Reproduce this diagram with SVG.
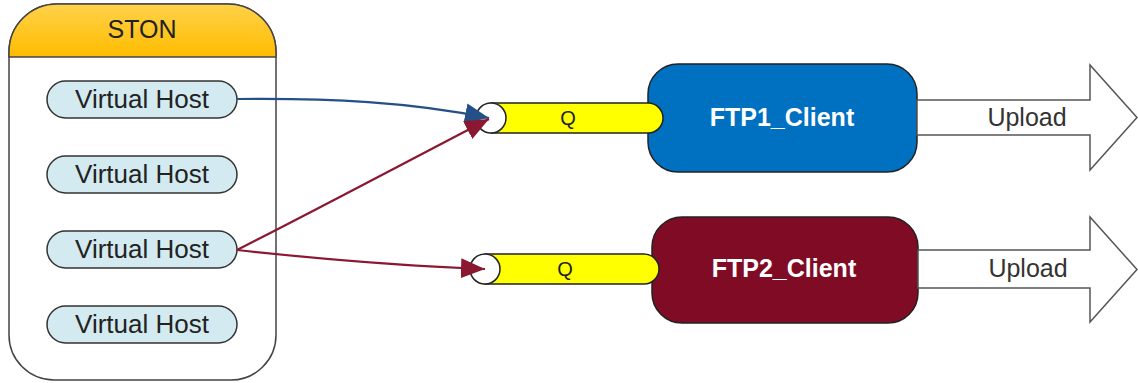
<svg xmlns="http://www.w3.org/2000/svg" width="1138" height="383" viewBox="0 0 1138 383">
<defs>
<linearGradient id="hdr" x1="0" y1="0" x2="0" y2="1">
<stop offset="0" stop-color="#FFD24A"/>
<stop offset="1" stop-color="#FFBC00"/>
</linearGradient>
<marker id="ab" markerUnits="userSpaceOnUse" markerWidth="26" markerHeight="20" refX="24" refY="10" orient="auto">
<path d="M0,0 L24,10 L0,20 Z" fill="#244F87"/>
</marker>
<marker id="ar" markerUnits="userSpaceOnUse" markerWidth="26" markerHeight="20" refX="24" refY="10" orient="auto">
<path d="M0,0 L24,10 L0,20 Z" fill="#8C1731"/>
</marker>
</defs>
<style>
text{font-family:"Liberation Sans",Arial,sans-serif;text-anchor:middle}
.vh rect{fill:#D3EAF0;stroke:#333;stroke-width:1.5}
.vh text{font-size:26px;fill:#222}
.tube{fill:#FFFF00;stroke:#222;stroke-width:1.5}
.port{fill:#fff;stroke:#222;stroke-width:1.5}
.q{font-size:20px;fill:#222}
.client{stroke:#222;stroke-width:1.5}
.ctext{font-size:25px;font-weight:bold;fill:#fff}
.up{fill:#fff;stroke:#555;stroke-width:1.5}
.uptext{font-size:25px;fill:#333}
.con{fill:none;stroke-width:2.2}
</style>
<g id="ston">
<path d="M9,52 A48,48 0 0 1 57,4 H228 A48,48 0 0 1 276,52 V335 A45,45 0 0 1 231,380 H54 A45,45 0 0 1 9,335 Z" fill="#fff" stroke="#444" stroke-width="1.5"/>
<path d="M9,57 V52 A48,48 0 0 1 57,4 H228 A48,48 0 0 1 276,52 V57 Z" fill="url(#hdr)" stroke="#444" stroke-width="1.5"/>
<text x="142" y="38" font-size="25" fill="#222">STON</text>
</g>
<g id="vh1" class="vh"><rect x="47" y="81" width="190" height="37" rx="18.5"/><text x="142" y="108">Virtual Host</text></g>
<g id="vh2" class="vh"><rect x="47" y="156" width="190" height="37" rx="18.5"/><text x="142" y="183">Virtual Host</text></g>
<g id="vh3" class="vh"><rect x="47" y="231" width="190" height="37" rx="18.5"/><text x="142" y="258">Virtual Host</text></g>
<g id="vh4" class="vh"><rect x="47" y="306" width="190" height="37" rx="18.5"/><text x="142" y="333">Virtual Host</text></g>
<g id="ftp1">
<rect class="client" x="648" y="64" width="269" height="108" rx="30" fill="#0070C0"/>
<text class="ctext" x="782" y="126">FTP1_Client</text>
</g>
<g id="q1">
<path class="tube" d="M491,103 H648 A15,15 0 0 1 648,133 H491 Z"/>
<circle class="port" cx="491" cy="118" r="15"/>
<text class="q" x="568" y="125">Q</text>
</g>
<g id="ftp2">
<rect class="client" x="652" y="217" width="266" height="106" rx="30" fill="#7F0C24"/>
<text class="ctext" x="784" y="277">FTP2_Client</text>
</g>
<g id="q2">
<path class="tube" d="M485,254 H644 A15,15 0 0 1 644,284 H485 Z"/>
<circle class="port" cx="485" cy="269" r="15"/>
<text class="q" x="565" y="276">Q</text>
</g>
<g id="upload1">
<path class="up" d="M917,100 H1090 V65 L1137,117.5 L1090,170 V135 H917 Z"/>
<text class="uptext" x="1027" y="126">Upload</text>
</g>
<g id="upload2">
<path class="up" d="M918,250 H1090 V217 L1137,269.5 L1090,322 V288 H918 Z"/>
<text class="uptext" x="1028" y="277">Upload</text>
</g>
<g id="connectors">
<path class="con" d="M237,99 C330,98 410,102 489,118" stroke="#244F87" marker-end="url(#ab)"/>
<path class="con" d="M237,250 C320,208 410,160 489,119" stroke="#8C1731" marker-end="url(#ar)"/>
<path class="con" d="M237,250 C320,259 400,266 485,269" stroke="#8C1731" marker-end="url(#ar)"/>
</g>
</svg>
